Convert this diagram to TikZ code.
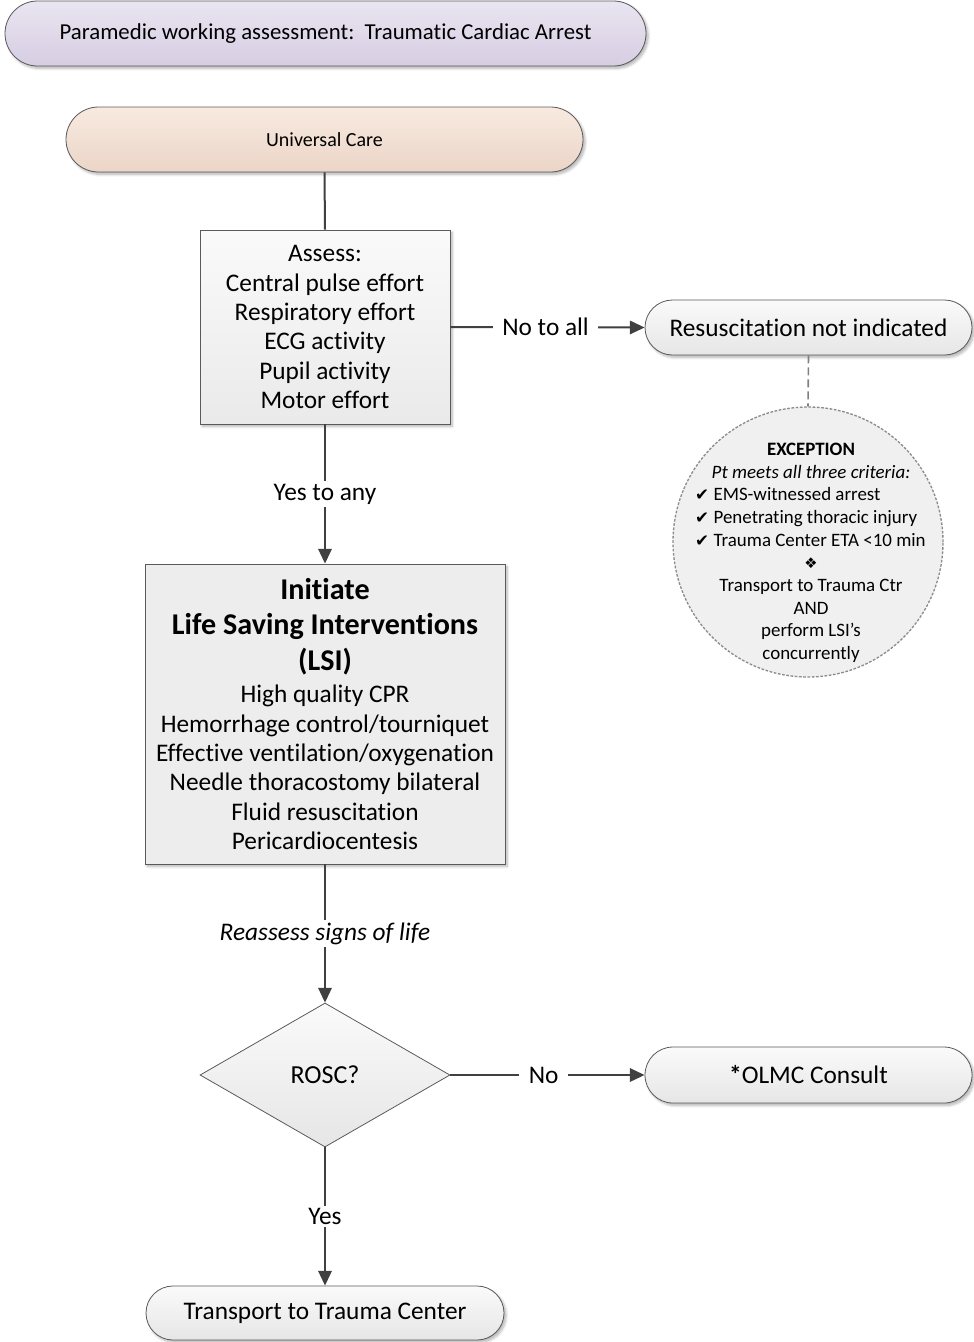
\documentclass[tikz,border=0pt]{standalone}
\usepackage{fontspec}
\setmainfont[Ligatures=NoCommon]{Carlito}
\newfontfamily\dejavu{DejaVu Sans}
\usetikzlibrary{shapes.geometric,shapes.misc,arrows.meta,shadows.blur}
\definecolor{lineC}{HTML}{404040}
\definecolor{bordC}{HTML}{5A5A5A}
\definecolor{lavT}{HTML}{EAE5F1}
\definecolor{lavB}{HTML}{D6CDE2}
\definecolor{peaT}{HTML}{F8EAE0}
\definecolor{peaB}{HTML}{EBD5C7}
\definecolor{gryT}{HTML}{FAFAFA}
\definecolor{gryB}{HTML}{E6E6E6}
\newcommand{\hdr}[1]{{\fontsize{22.6}{26}\selectfont\bfseries #1}}
\newcommand{\chk}{{\dejavu\fontsize{12.5}{17}\selectfont ✔}\hspace{3.5pt}}
\newcommand{\chkline}[1]{\makebox[174pt][l]{\chk #1}}
\tikzset{
  shad/.style={blur shadow={shadow xshift=1.6pt,shadow yshift=-1.8pt,shadow blur steps=6,shadow opacity=30}},
  pill/.style={rounded rectangle, draw=bordC, line width=0.6pt, inner sep=0pt, shad, top color=gryT, bottom color=gryB},
  boxS/.style={rectangle, draw=bordC, line width=0.6pt, inner sep=0pt, align=center, shad},
  conn/.style={draw=lineC, line width=1.5pt},
  arr/.style={conn, -{Triangle[length=11pt,width=10pt]}},
  lbl/.style={fill=white, inner xsep=7pt, inner ysep=2pt, font=\fontsize{19}{22}\selectfont},
  big/.style={font=\fontsize{19}{22}\selectfont}
}
\begin{document}
\begin{tikzpicture}[x=0.75pt,y=-0.75pt]
\useasboundingbox (0,0) rectangle (974,1342);
% title
\node[pill, top color=lavT, bottom color=lavB, minimum width=641*0.75pt, minimum height=65*0.75pt,
      font=\fontsize{17.1}{20}\selectfont] (title) at (325.5,33.5) {Paramedic working assessment:\ \ Traumatic Cardiac Arrest};
% universal care
\node[pill, top color=peaT, bottom color=peaB, minimum width=517*0.75pt, minimum height=65*0.75pt,
      font=\fontsize{15}{18}\selectfont] (uc) at (324.5,139.5) {Universal Care};
% assess
\node[boxS, top color=gryT, bottom color=gryB!85, minimum width=250*0.75pt, minimum height=194*0.75pt, big] (assess) at (325,327)
  {Assess:\\Central pulse effort\\Respiratory effort\\ECG activity\\Pupil activity\\Motor effort};
% resus not indicated
\node[pill, minimum width=327*0.75pt, minimum height=55*0.75pt, big] (resus) at (808.5,327.5) {Resuscitation not indicated};
% exception circle
\node[circle, draw=black!45, line width=1pt, dash pattern=on 2pt off 1.2pt, fill=black!6, minimum size=270*0.75pt, inner sep=0pt] (exc) at (808,542) {};
\node[inner sep=0pt, font=\fontsize{14.2}{17}\selectfont] (exctext) at (811,553)
  {\begin{tabular}{@{}c@{}}
   \textbf{EXCEPTION}\\
   \textit{Pt meets all three criteria:}\\
   \chkline{EMS-witnessed arrest}\\
   \chkline{Penetrating thoracic injury}\\
   \chkline{Trauma Center ETA <10 min}\\
   {\dejavu\fontsize{11}{17}\selectfont ❖}\\
   Transport to Trauma Ctr\\
   AND\\
   perform LSI’s\\
   concurrently
   \end{tabular}};
% LSI
\node[boxS, fill=black!7, minimum width=360*0.75pt, minimum height=300*0.75pt, big] (lsi) at (325,714)
  {\hdr{Initiate}\\[4.5pt] \hdr{Life Saving Interventions}\\[4.5pt] \hdr{(LSI)}\\[2.5pt]
   High quality CPR\\ Hemorrhage control/tourniquet\\ Effective ventilation/oxygenation\\ Needle thoracostomy bilateral\\ Fluid resuscitation\\ Pericardiocentesis};
% diamond
\node[diamond, draw=bordC, line width=0.6pt, top color=gryT, bottom color=gryB, minimum width=250*0.75pt, minimum height=144*0.75pt,
      inner sep=0pt, font=\fontsize{19.5}{22}\selectfont] (rosc) at (325,1075) {ROSC?};
% OLMC
\node[pill, minimum width=327*0.75pt, minimum height=56*0.75pt, big] (olmc) at (808.5,1075) {\textbf{*}OLMC Consult};
% transport
\node[pill, minimum width=358*0.75pt, minimum height=54*0.75pt, big] (trans) at (325,1313) {Transport to Trauma Center};
% connectors
\draw[conn] (uc.south) -- (assess.north);
\draw[arr] (assess.east) -- node[lbl, pos=0.49] {No to all} (resus.west);
\draw[draw=black!50, line width=1.2pt, dash pattern=on 6pt off 3pt] (resus.south) -- (exc.north);
\draw[arr] (assess.south) -- node[lbl] {Yes to any} (lsi.north);
\draw[arr] (lsi.south) -- node[lbl, font=\fontsize{19}{22}\selectfont\itshape] {Reassess signs of life} (rosc.north);
\draw[arr] (rosc.east) -- node[lbl, pos=0.48] {No} (olmc.west);
\draw[arr] (rosc.south) -- node[lbl] {Yes} (trans.north);
\end{tikzpicture}
\end{document}
